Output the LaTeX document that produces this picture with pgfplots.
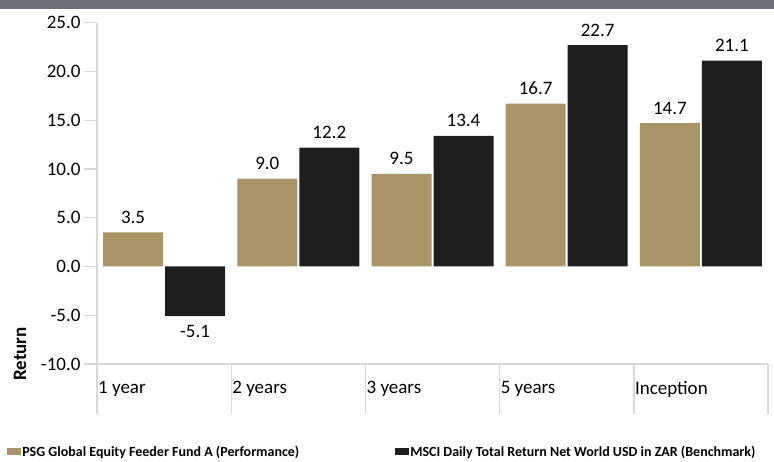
\documentclass[border=0pt]{standalone}
\usepackage{fontspec}
\setmainfont{Carlito}
\usepackage{pgfplots}
\pgfplotsset{compat=1.18}
\definecolor{gold}{HTML}{A99467}
\definecolor{blk}{HTML}{1E1E1E}
\definecolor{hdr}{HTML}{6D7079}
\definecolor{axl}{HTML}{D9D9D9}
\begin{document}
\begin{tikzpicture}
\path[use as bounding box] (0,0) rectangle (774pt,462pt);
\fill[hdr] (0,453pt) rectangle (774pt,462pt);
\begin{axis}[
  at={(97pt,98pt)}, anchor=south west,
  scale only axis, width=671pt, height=341.3pt,
  xmin=0, xmax=5, ymin=-10, ymax=25,
  ybar,
  axis x line*=bottom, axis y line*=left,
  axis line style={draw=axl, line width=1.4pt, -},
  xtick={0,1,2,3,4},
  xticklabels={1 year,2 years,3 years,5 years,Inception},
  xtick style={draw=none},
  xticklabel style={anchor=west, inner sep=0pt, xshift=1pt, yshift=-12pt, font=\fontsize{19}{22}\selectfont},
  ytick={-10,-5,...,25},
  ytick style={draw=axl, line width=1.4pt},
  major tick length=13pt, tick align=outside,
  yticklabel style={font=\fontsize{19}{22}\selectfont, /pgf/number format/.cd, fixed, fixed zerofill, precision=1},
  /pgf/number format/assume math mode=true,
  bar width=60pt,
  nodes near coords,
  nodes near coords style={font=\fontsize{19}{22}\selectfont, inner ysep=8.5pt, /pgf/number format/.cd, fixed, fixed zerofill, precision=1, assume math mode=true},
  legend columns=2,
  legend style={at={(-0.134,-0.257)}, anchor=west, draw=none, inner sep=0pt, nodes={inner xsep=1pt}, font=\bfseries\fontsize{14}{16}\selectfont, /tikz/every even column/.append style={column sep=95pt}},
  legend image code/.code={\fill[#1,draw=none] (0pt,-3.5pt) rectangle (14pt,3.5pt);},
  clip=false,
]
\addplot[fill=gold, draw=none, bar shift=-31pt] coordinates {(0.5,3.5) (1.5,9.0) (2.5,9.5) (3.5,16.7) (4.5,14.7)};
\addplot[fill=blk, draw=none, bar shift=31pt] coordinates {(0.5,-5.1) (1.5,12.2) (2.5,13.4) (3.5,22.7) (4.5,21.1)};
\legend{PSG Global Equity Feeder Fund A (Performance), MSCI Daily Total Return Net World USD in ZAR (Benchmark)}
\pgfplotsinvokeforeach{0,...,5}{\draw[axl, line width=1.4pt] (axis cs:#1,-10) -- ([yshift=-50pt]axis cs:#1,-10);}
\end{axis}
\node[rotate=90, font=\bfseries\fontsize{19}{22}\selectfont] at (20pt,108pt) {Return};
\end{tikzpicture}
\end{document}
